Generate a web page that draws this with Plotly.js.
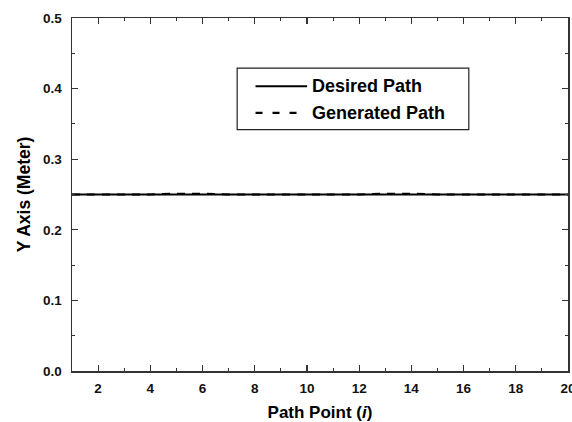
<!DOCTYPE html>
<html>
<head>
<meta charset="utf-8">
<script src="https://cdn.plot.ly/plotly-3.0.1.min.js"></script>
<style>html,body{margin:0;padding:0;background:#fff;}#chart{width:572px;height:422px;}</style>
</head>
<body>
<div id="chart"></div>
<script>
const pathPoints = [1,2,3,4,5,6,7,8,9,10,11,12,13,14,15,16,17,18,19,20];
const desiredY   = [0.25,0.25,0.25,0.25,0.25,0.25,0.25,0.25,0.25,0.25,0.25,0.25,0.25,0.25,0.25,0.25,0.25,0.25,0.25,0.25];
const generatedY = [0.25,0.25,0.25,0.25,0.2512,0.2512,0.25,0.25,0.25,0.25,0.25,0.25,0.2512,0.2512,0.25,0.25,0.25,0.25,0.25,0.25];
const seriesNames = ["Desired Path", "Generated Path"];
const xTicks = [2,4,6,8,10,12,14,16,18,20];
const yTicks = [0.0,0.1,0.2,0.3,0.4,0.5];
const yTickText = ["0.0","0.1","0.2","0.3","0.4","0.5"];

const font = "Liberation Sans, Arial, sans-serif";

const traces = [
  {x: pathPoints, y: generatedY, mode: "lines", name: seriesNames[1],
   line: {color: "#000", width: 2, dash: "8px,7px"}},
  {x: pathPoints, y: desiredY, mode: "lines", name: seriesNames[0],
   line: {color: "#000", width: 2}}
];

const axisCommon = {
  showgrid: false, zeroline: false, showline: true, linecolor: "#333", linewidth: 1.5,
  mirror: "ticks", ticks: "inside", ticklen: 6, tickwidth: 1.2, tickcolor: "#333",
  ticklabeloverflow: "allow",
  tickfont: {family: font, size: 13.5, color: "#111", weight: "bold"}
};

// manual legend (box in paper coords)
const lx0 = 0.333, lx1 = 0.8, ly0 = 0.684, ly1 = 0.858;
const rowY = [0.807, 0.731];
const sx0 = 0.370, sx1 = 0.474, sx1d = 0.46;

const layout = {
  width: 572, height: 422,
  margin: {l: 72, r: 4, t: 18, b: 51},
  paper_bgcolor: "#fff", plot_bgcolor: "#fff",
  showlegend: false,
  xaxis: Object.assign({}, axisCommon, {
    range: [1, 20], tickvals: xTicks, ticklabelstandoff: 4,
    minor: {dtick: 1, tick0: 1, ticks: "inside", ticklen: 3, tickcolor: "#333", tickwidth: 1},
    title: {text: "Path Point (<i>i</i>)", font: {family: font, size: 17, color: "#000", weight: "bold"}, standoff: 12}
  }),
  yaxis: Object.assign({}, axisCommon, {
    range: [0, 0.5], tickvals: yTicks, ticktext: yTickText, ticklabelstandoff: 6,
    minor: {dtick: 0.05, tick0: 0, ticks: "inside", ticklen: 3, tickcolor: "#333", tickwidth: 1},
    title: {text: "Y Axis (Meter)", font: {family: font, size: 17.5, color: "#000", weight: "bold"}, standoff: 8}
  }),
  shapes: [
    {type: "rect", xref: "paper", yref: "paper", x0: lx0, x1: lx1, y0: ly0, y1: ly1,
     line: {color: "#222", width: 1.2}, fillcolor: "rgba(255,255,255,0)"},
    {type: "line", xref: "paper", yref: "paper", x0: sx0, x1: sx1, y0: rowY[0], y1: rowY[0],
     line: {color: "#000", width: 2}},
    {type: "line", xref: "paper", yref: "paper", x0: sx0, x1: sx1d, y0: rowY[1], y1: rowY[1],
     line: {color: "#000", width: 2.2, dash: "7px,10px"}}
  ],
  annotations: [
    {xref: "paper", yref: "paper", x: 0.48, y: rowY[0], xanchor: "left", yanchor: "middle",
     text: seriesNames[0], showarrow: false, font: {family: font, size: 18, color: "#000", weight: "bold"}},
    {xref: "paper", yref: "paper", x: 0.48, y: rowY[1], xanchor: "left", yanchor: "middle",
     text: seriesNames[1], showarrow: false, font: {family: font, size: 18, color: "#000", weight: "bold"}}
  ]
};

Plotly.newPlot("chart", traces, layout, {displayModeBar: false, staticPlot: true});
</script>
</body>
</html>
